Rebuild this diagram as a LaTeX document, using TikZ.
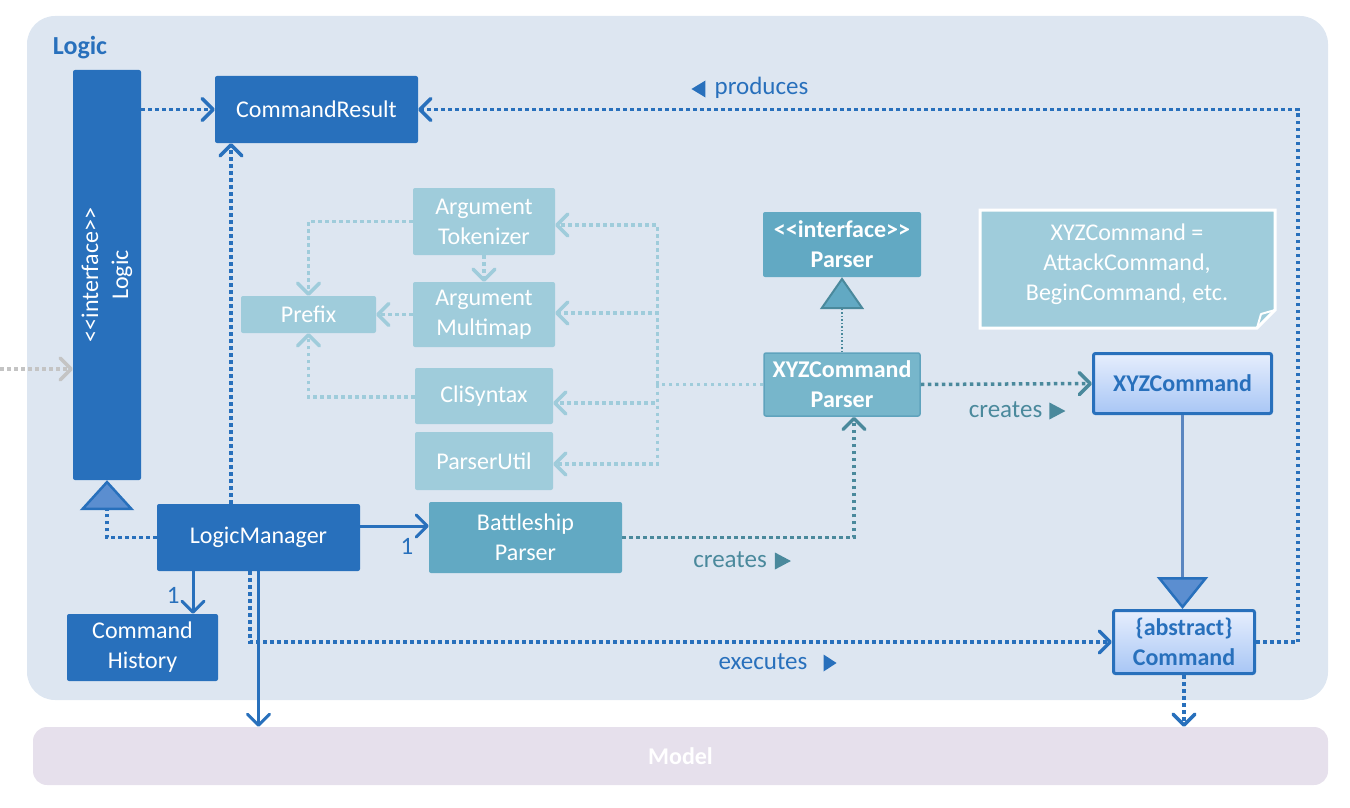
\documentclass[tikz,border=0pt]{standalone}
\usepackage{fontspec}
\setmainfont{Carlito}
\usetikzlibrary{arrows.meta,positioning,calc}

\definecolor{logicbg}{HTML}{DDE6F1}
\definecolor{modelbg}{HTML}{E6E0EC}
\definecolor{logicblue}{HTML}{2870BC}
\definecolor{lightteal}{HTML}{9FCCDB}
\definecolor{midteal}{HTML}{62A9C3}
\definecolor{xyzteal}{HTML}{77B6CB}
\definecolor{xyzborder}{HTML}{5FA3BD}
\definecolor{darkteal}{HTML}{4A899C}
\definecolor{gradtop}{HTML}{E6EEFD}
\definecolor{gradbot}{HTML}{A8C6F5}
\definecolor{trifill}{HTML}{5B8ED0}
\definecolor{realline}{HTML}{5A86C0}
\definecolor{uigray}{HTML}{C4C4C4}

\newcommand{\boxfont}{\fontsize{24}{30}\selectfont}
\newcommand{\lblfont}{\fontsize{25}{30}\selectfont}
\newcommand{\guil}[1]{<\kern0pt<#1>\kern0pt>}

\begin{document}
\begin{tikzpicture}[x=1pt,y=-1pt,
  box/.style={rectangle,rounded corners=2pt,inner sep=0pt,align=center,font=\boxfont,text=white},
  dep/.style={line width=3.5pt,dash pattern=on 3.5pt off 3.5pt,-{Straight Barb[length=11pt,width=22pt,round]}},
  lightdep/.style={dep,draw=lightteal},
  assoc/.style={line width=3pt,-{Straight Barb[length=11pt,width=22pt,round]}},
  lbl/.style={inner sep=0pt,font=\lblfont,text height=17pt,text depth=5pt}]
\useasboundingbox (0,0) rectangle (1350,808);

% packages
\fill[logicbg,rounded corners=28pt] (27,16) rectangle (1328,700);
\node[box,fill=modelbg,rounded corners=14pt,minimum width=1295pt,minimum height=58pt,font=\boxfont\bfseries] (model) at (680.5,756) {Model};
\node[font=\fontsize{26}{30}\selectfont\bfseries,text=logicblue] (logiclbl) at (80,48) {Logic};

% dark blue classes
\node[box,fill=logicblue,minimum width=68pt,minimum height=410pt] (logic) at (107,275)
  {\rotatebox{90}{\begin{tabular}{@{}c@{}}\guil{interface}\\Logic\end{tabular}}};
\node[box,fill=logicblue,minimum width=203pt,minimum height=67pt] (cmdresult) at (316.5,109.5) {CommandResult};
\node[box,fill=logicblue,minimum width=203pt,minimum height=67pt] (logicmanager) at (258.5,537.5) {LogicManager};
\node[box,fill=logicblue,minimum width=151pt,minimum height=67pt] (history) at (142.5,647.5) {Command\\History};

% parser classes
\node[box,fill=lightteal,minimum width=142pt,minimum height=67pt] (tokenizer) at (484,221.5) {Argument\\Tokenizer};
\node[box,fill=lightteal,minimum width=142pt,minimum height=65pt] (multimap) at (484,314.5) {Argument\\Multimap};
\node[box,fill=lightteal,minimum width=135pt,minimum height=37pt] (prefix) at (308.5,314.5) {Prefix};
\node[box,fill=lightteal,minimum width=138pt,minimum height=56pt] (clisyntax) at (484,396) {CliSyntax};
\node[box,fill=lightteal,minimum width=138pt,minimum height=58pt] (parserutil) at (484,461) {ParserUtil};
\node[box,fill=midteal,minimum width=193pt,minimum height=71pt] (battleparser) at (525.5,537.5) {Battleship\\Parser};
\node[box,fill=midteal,minimum width=158pt,minimum height=65pt,font=\boxfont\bfseries] (parser) at (842,244.5) {\guil{interface}\\Parser};
\node[box,fill=xyzteal,draw=xyzborder,line width=1.5pt,minimum width=156pt,minimum height=63pt,font=\boxfont\bfseries] (xyzparser) at (842,384.5) {XYZCommand\\Parser};

% commands
\node[box,top color=gradtop,bottom color=gradbot,draw=logicblue,line width=3pt,minimum width=178pt,minimum height=60pt,text=logicblue,font=\boxfont\bfseries] (xyzcmd) at (1182.5,383.5) {XYZCommand};
\node[box,top color=gradtop,bottom color=gradbot,draw=logicblue,line width=3pt,minimum width=141pt,minimum height=63pt,text=logicblue,font=\boxfont\bfseries] (command) at (1184,642) {\{abstract\}\\Command};

% note
\draw[white,line width=3pt,fill=lightteal] (980,210) -- (1275,210) -- (1275,310) -- (1257,328) -- (980,328) -- cycle;
\draw[white,line width=2pt,line join=round] (1257,328) -- (1261,314) -- (1275,310);
\node[box] (note) at (1127,264) {XYZCommand =\\AttackCommand,\\BeginCommand, etc.};

% connectors
\coordinate (ui) at (0,369);
\draw[dep,draw=uigray] (ui) -- (ui -| logic.west);
\draw[dep,draw=logicblue] (logic.east |- cmdresult.west) -- (cmdresult.west);
\coordinate (lmres) at ([xshift=-27.5]logicmanager.north);
\draw[dep,draw=logicblue] (lmres) -- (lmres |- cmdresult.south);
\draw[dep,draw=logicblue,-{Triangle[length=30pt,width=54pt,line width=2.5pt,fill=trifill]}] (logicmanager.west) -| (logic.south);
\coordinate (lmhist) at ([xshift=-65.5]logicmanager.south);
\draw[assoc,draw=logicblue] (lmhist) -- (lmhist |- history.north)
  node[lbl,text=logicblue,pos=0.62,left=12pt] {1};
\coordinate (lmbp) at ([yshift=11.5]logicmanager.east);
\draw[assoc,draw=logicblue] (lmbp) -- (lmbp -| battleparser.west)
  node[lbl,text=logicblue,pos=0.68,below=10pt] {1};
\draw[assoc,draw=logicblue] (logicmanager.south) -- (logicmanager.south |- model.north);
\coordinate (lmexec) at ([xshift=-8.5]logicmanager.south);
\draw[dep,draw=logicblue] (lmexec) |- (command.west);
\draw[dep,draw=logicblue] (command.south) -- (command.south |- model.north);
\draw[dep,draw=logicblue] (command.east) -- ++(42,0) |- (cmdresult.east);
\draw[line width=3pt,draw=realline,-{Triangle[length=32pt,width=51pt,line width=2.5pt,color=logicblue,fill=trifill]}] (xyzcmd.south) -- (xyzcmd.south |- command.north);

\coordinate (bpxyz) at ([xshift=12]xyzparser.south);
\draw[dep,draw=darkteal] (battleparser.east) -| (bpxyz);
\draw[dep,draw=darkteal] (xyzparser.east) -- (xyzcmd.west);
\draw[line width=1.5pt,draw=darkteal,dash pattern=on 1.5pt off 2pt,-{Triangle[length=32pt,width=44pt,line width=2pt,fill=midteal]}] (xyzparser.north) -- (parser.south);

\coordinate (trunk) at ([xshift=-106]xyzparser.west);
\draw[lightdep,-] (xyzparser.west) -- (trunk);
\draw[lightdep] (trunk) |- ([yshift=-3.5]tokenizer.east);
\draw[lightdep] (trunk) |- ([yshift=1.5]multimap.east);
\draw[lightdep] (trunk) |- ([yshift=-7]clisyntax.east);
\draw[lightdep] (trunk) |- ([yshift=-3]parserutil.east);
\draw[lightdep] (tokenizer.west) -| (prefix.north);
\draw[lightdep] (tokenizer.south) -- (multimap.north);
\draw[lightdep] (multimap.west) -- (prefix.east);
\draw[lightdep] ([yshift=-1]clisyntax.west) -| (prefix.south);

% labels
\node[lbl,text=logicblue] (produces) at (761.5,89) {produces};
\fill[logicblue] ([xshift=-9]produces.west) -- ++(0,-8.5) -- ++(-14,8.5) -- ++(14,8.5) -- cycle;
\node[lbl,text=darkteal] (createsxyz) at (1005.5,411) {creates};
\fill[darkteal] ([xshift=7]createsxyz.east) -- ++(0,-8.5) -- ++(16,8.5) -- ++(-16,8.5) -- cycle;
\node[lbl,text=darkteal] (createsbp) at (730,561) {creates};
\fill[darkteal] ([xshift=8]createsbp.east) -- ++(0,-8.5) -- ++(16,8.5) -- ++(-16,8.5) -- cycle;
\node[lbl,text=logicblue] (executes) at (763,663) {executes};
\fill[logicblue] ([xshift=16]executes.east) -- ++(0,-8.5) -- ++(13,8.5) -- ++(-13,8.5) -- cycle;
\end{tikzpicture}
\end{document}
